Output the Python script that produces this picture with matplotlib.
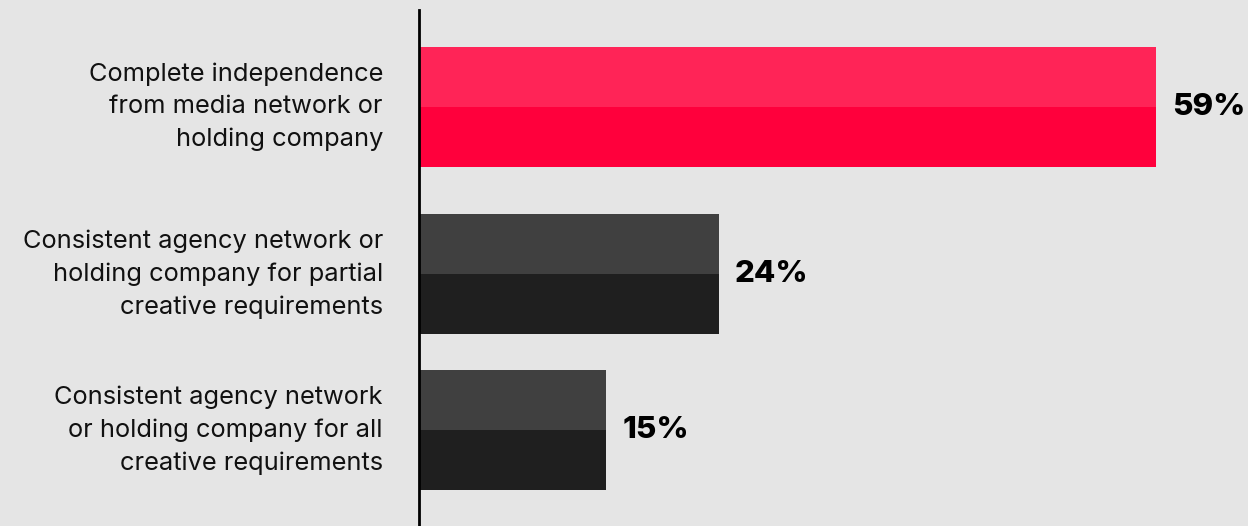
import matplotlib.pyplot as plt

categories = [
    "Complete independence\nfrom media network or\nholding company",
    "Consistent agency network or\nholding company for partial\ncreative requirements",
    "Consistent agency network\nor holding company for all\ncreative requirements",
]
values = [59, 24, 15]
value_labels = ["59%", "24%", "15%"]

positions = [0.0, 1.392, 2.692]
top_colors = ["#ff2457", "#404040", "#404040"]
bottom_colors = ["#ff003c", "#1f1f1f", "#1f1f1f"]
bg = "#e5e5e5"

fig = plt.figure(figsize=(12.48, 5.26), dpi=100, facecolor=bg)
ax = fig.add_axes([419 / 1248, 0, (1248 - 419) / 1248, (526 - 10) / 526])
ax.set_facecolor(bg)

px_per_unit = (1156 - 419) / 59.0
ax.set_xlim(0, (1248 - 419) / px_per_unit)
# 120 px per bar; axis spans 516 px vertically
top_edge = -(107 - 10) / 120.0
ax.set_ylim(top_edge + 516 / 120.0, top_edge)

for y, v, ct, cb in zip(positions, values, top_colors, bottom_colors):
    ax.barh(y - 0.25, v, height=0.5, color=ct, linewidth=0)
    ax.barh(y + 0.25, v, height=0.5, color=cb, linewidth=0)

for y, v, lab in zip(positions, values, value_labels):
    ax.text(v + 16 / px_per_unit, y, lab, va="center", ha="left",
            fontsize=22.5, fontweight="heavy", family="Inter", color="#000000")

for y, cat in zip(positions, categories):
    ax.text(-36 / px_per_unit, y, cat, va="center", ha="right",
            fontsize=18.3, family="Inter", color="#111111",
            linespacing=1.52, clip_on=False)

for s in ["top", "right", "bottom"]:
    ax.spines[s].set_visible(False)
ax.spines["left"].set_linewidth(2)
ax.spines["left"].set_color("#000000")
ax.set_xticks([])
ax.set_yticks([])

fig.savefig("out.png", dpi=100, facecolor=bg)
